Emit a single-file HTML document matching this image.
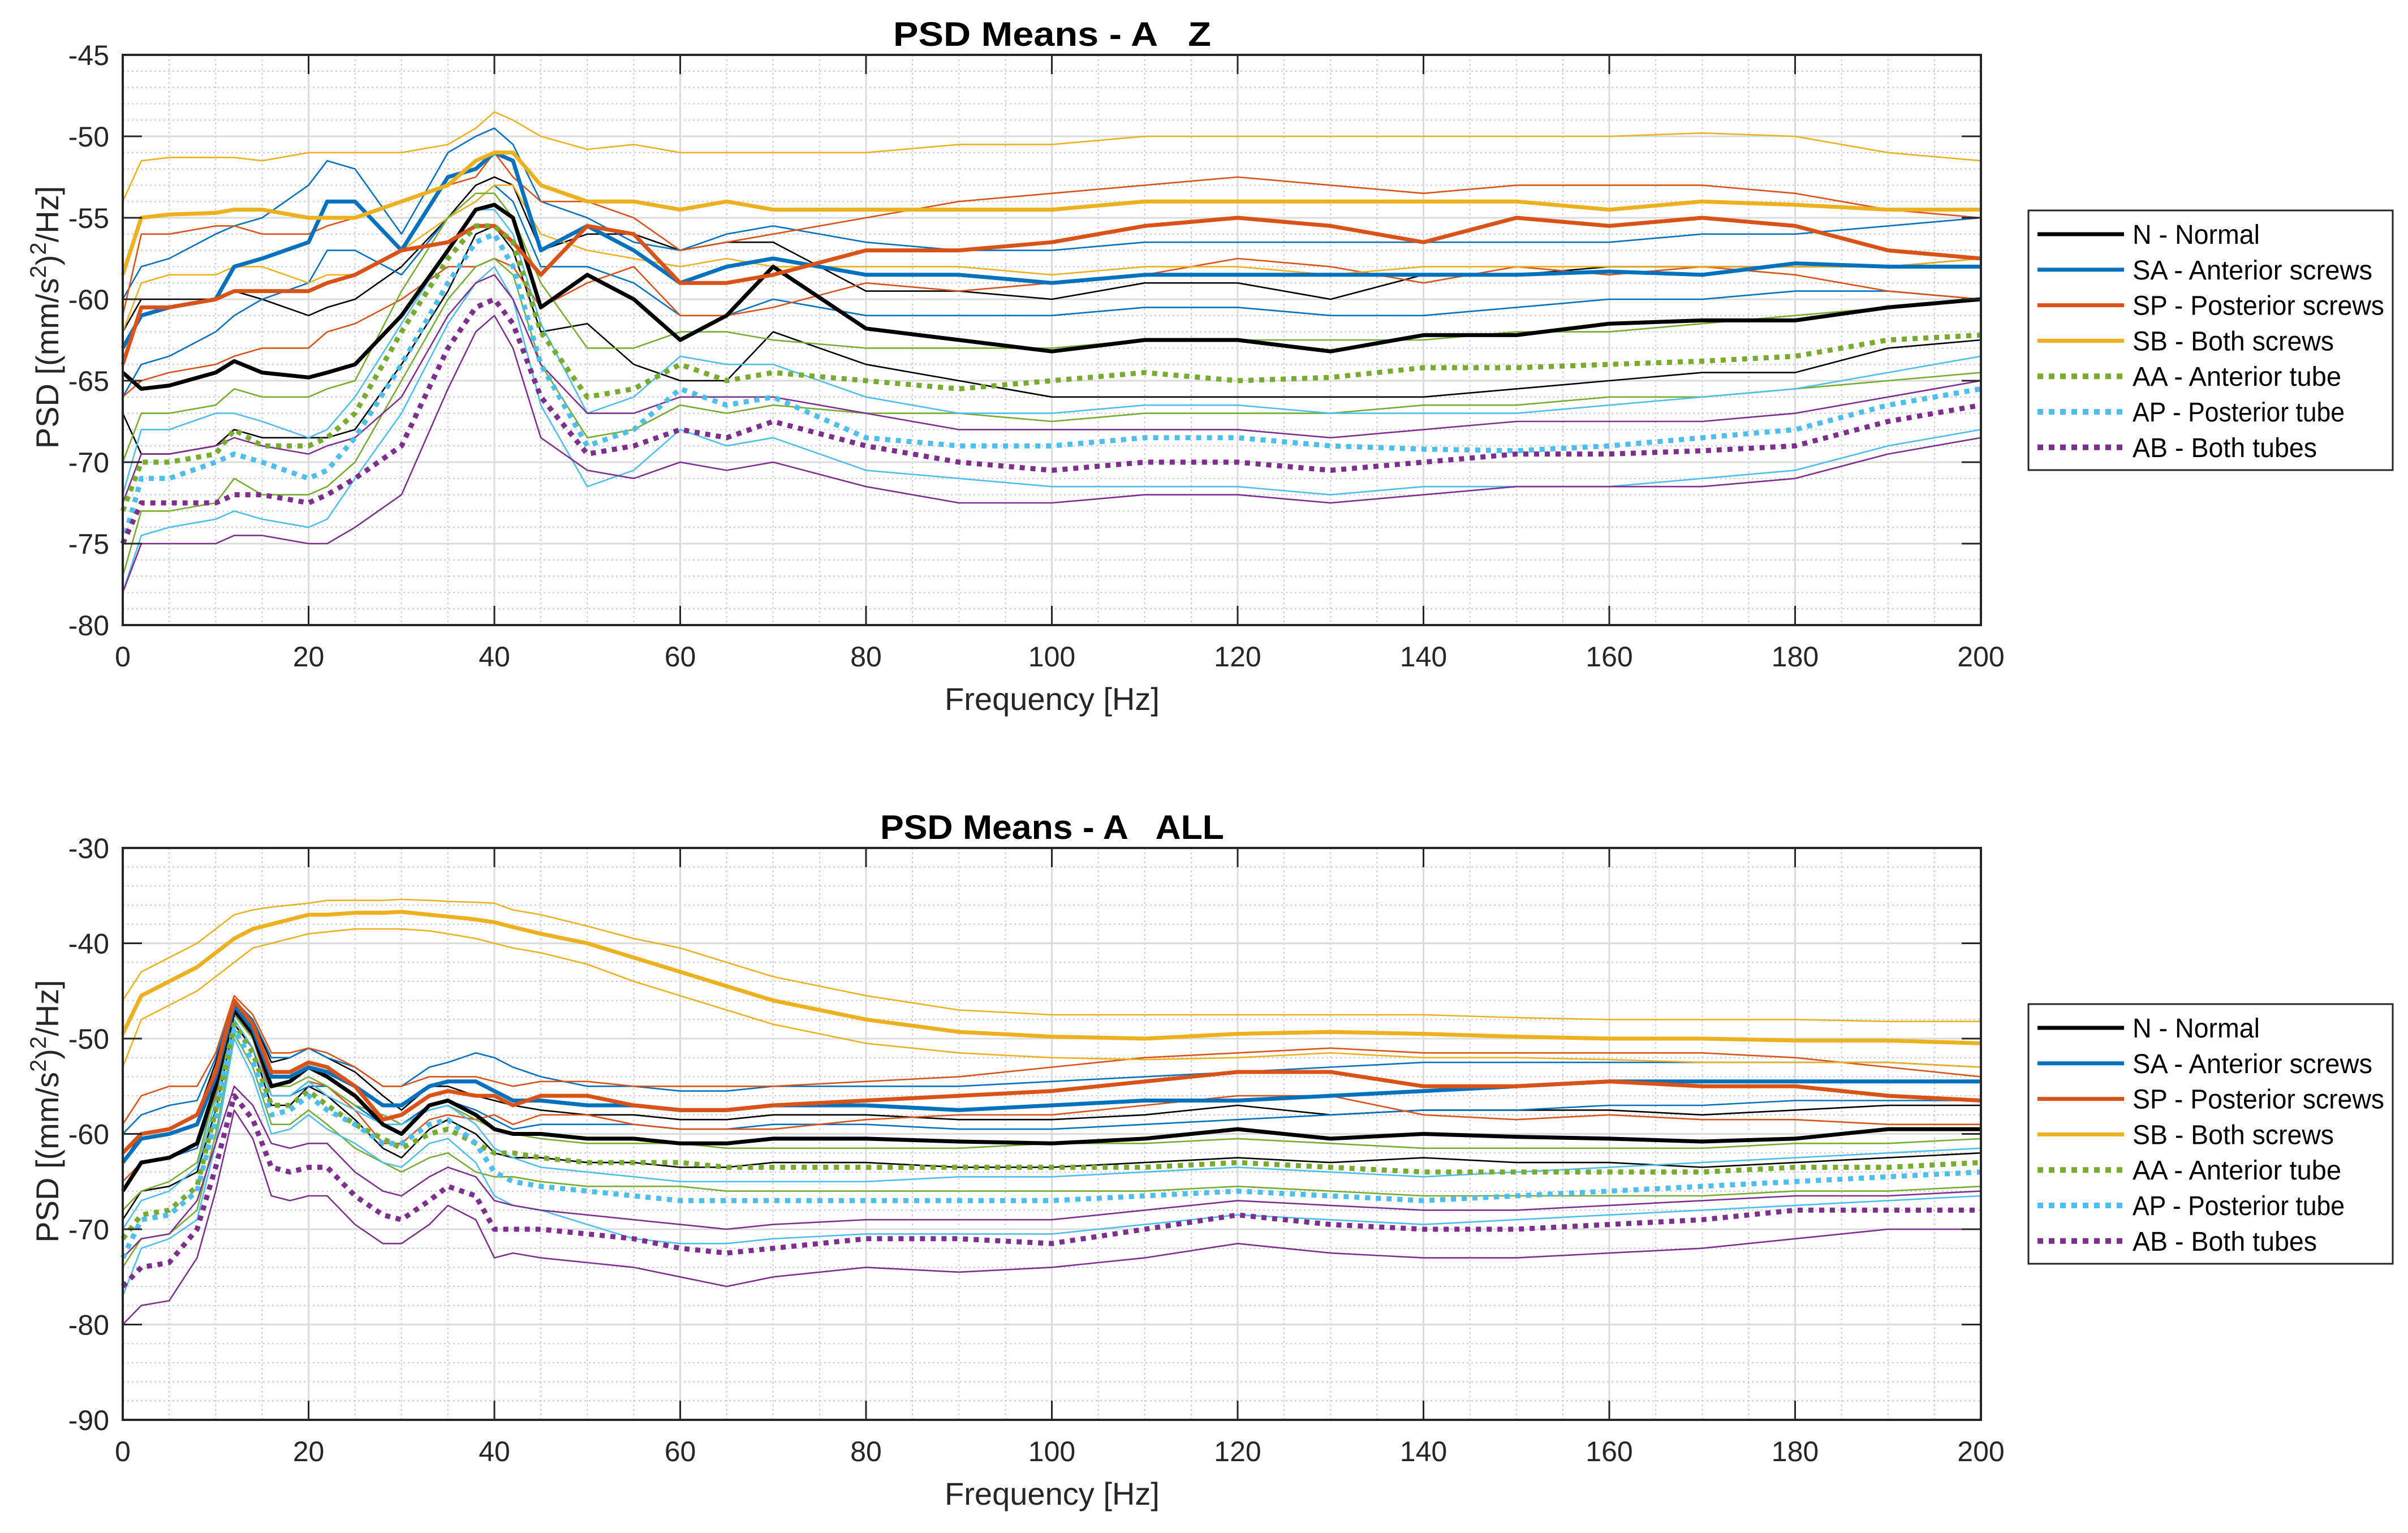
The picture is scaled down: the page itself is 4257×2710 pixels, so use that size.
<!DOCTYPE html>
<html><head><meta charset="utf-8"><style>
html,body{margin:0;padding:0;background:#fff;}
svg{display:block;font-family:"Liberation Sans",Arial,sans-serif;}
text{white-space:pre;}
</style></head><body>
<svg id="chart" width="4257" height="2710" viewBox="0 0 4257 2710" xmlns="http://www.w3.org/2000/svg">
<rect x="0" y="0" width="4257" height="2710" fill="#fff"/>
</svg>
<script>
// ---- data: top (Z) ----
const freqZ = [0,2,5,10,12,15,20,22,25,30,35,38,40,42,45,50,55,60,65,70,80,90,100,110,120,130,140,150,160,170,180,190,200];
const zN  = [-64.5,-65.5,-65.3,-64.5,-63.8,-64.5,-64.8,-64.5,-64,-61,-57,-54.5,-54.2,-55,-60.5,-58.5,-60,-62.5,-61,-58,-61.8,-62.5,-63.2,-62.5,-62.5,-63.2,-62.2,-62.2,-61.5,-61.3,-61.3,-60.5,-60];
const zNhi= [-62,-60,-60,-60,-59.5,-60,-61,-60.5,-60,-58,-55,-53,-52.5,-53,-57,-56,-56,-57,-56.5,-56.5,-59.5,-59.5,-60,-59,-59,-60,-58.5,-58.5,-58,-58,-58,-58,-57.5];
const zNlo= [-67,-69.5,-69.5,-69,-68,-68.5,-68.5,-68.5,-68,-64,-59.5,-56,-55.5,-57,-62,-61.5,-64,-65,-65,-62,-64,-65,-66,-66,-66,-66,-66,-65.5,-65,-64.5,-64.5,-63,-62.5];
const zSA = [-63,-61,-60.5,-60,-58,-57.5,-56.5,-54,-54,-57,-52.5,-52,-51,-51.5,-57,-55.5,-57,-59,-58,-57.5,-58.5,-58.5,-59,-58.5,-58.5,-58.5,-58.5,-58.5,-58.3,-58.5,-57.8,-58,-58];
const zSAhi=[-60,-58,-57.5,-56,-55.5,-55,-53,-51.5,-52,-56,-51,-50,-49.5,-50.5,-54,-55,-56.5,-57,-56,-55.5,-56.5,-57,-57,-56.5,-56.5,-56.5,-56.5,-56.5,-56.5,-56,-56,-55.5,-55];
const zSAlo=[-66,-64,-63.5,-62,-61,-60,-59,-57,-57,-58.5,-55,-54,-53,-54,-58,-58,-59,-61,-61,-60,-61,-61,-61,-60.5,-60.5,-61,-61,-60.5,-60,-60,-59.5,-59.5,-60];
const zSP = [-64,-60.5,-60.5,-60,-59.5,-59.5,-59.5,-59,-58.5,-57,-56.5,-55.5,-55.5,-56.5,-58.5,-55.5,-56,-59,-59,-58.5,-57,-57,-56.5,-55.5,-55,-55.5,-56.5,-55,-55.5,-55,-55.5,-57,-57.5];
const zSPhi=[-61,-56,-56,-55.5,-55.5,-56,-56,-55.5,-55,-54,-53,-52.5,-51,-52.5,-54,-54,-55,-57,-56.5,-56,-55,-54,-53.5,-53,-52.5,-53,-53.5,-53,-53,-53,-53.5,-54.5,-55];
const zSPlo=[-66,-65,-64.5,-64,-63.5,-63,-63,-62,-61.5,-60,-58,-58,-57.5,-58,-60.5,-59,-58,-61,-61,-60.5,-59,-59.5,-59,-58.5,-57.5,-58,-59,-58,-58.5,-58,-58.5,-59.5,-60];
const zSB = [-58.5,-55,-54.8,-54.7,-54.5,-54.5,-55,-55,-55,-54,-53,-51.5,-51,-51,-53,-54,-54,-54.5,-54,-54.5,-54.5,-54.5,-54.5,-54,-54,-54,-54,-54,-54.5,-54,-54.2,-54.5,-54.5];
const zSBhi=[-54,-51.5,-51.3,-51.3,-51.3,-51.5,-51,-51,-51,-51,-50.5,-49.5,-48.5,-49,-50,-50.8,-50.5,-51,-51,-51,-51,-50.5,-50.5,-50,-50,-50,-50,-50,-50,-49.8,-50,-51,-51.5];
const zSBlo=[-62,-59,-58.5,-58.5,-58,-58,-59,-58.5,-58.5,-57,-55,-54,-53,-53,-56,-57,-57.5,-58,-57.5,-58,-58,-58,-58.5,-58,-58,-58.5,-58,-58,-58,-58,-58,-58,-57.5];
const zAA = [-73,-70,-70,-69.5,-68,-69,-69,-68.5,-67,-62,-57.5,-55.5,-55.5,-56.5,-62,-66,-65.5,-64,-65,-64.5,-65,-65.5,-65,-64.5,-65,-64.8,-64.2,-64.2,-64,-63.8,-63.5,-62.5,-62.2];
const zAAhi=[-70,-67,-67,-66.5,-65.5,-66,-66,-65.5,-65,-59.5,-55,-53.5,-53.5,-55,-59,-63,-63,-62,-62,-62.5,-63,-63,-63,-62.5,-62.5,-62.5,-62.5,-62,-62,-61.5,-61,-60.5,-60];
const zAAlo=[-77,-73,-73,-72.5,-71,-72,-72,-71.5,-70,-65,-60,-58,-57.5,-58.5,-64,-68.5,-68,-66.5,-67,-66.5,-67,-67,-67.5,-67,-67,-67,-66.5,-66.5,-66,-66,-65.5,-65,-64.5];
const zAP = [-75,-71,-71,-70,-69.5,-70,-71,-70.5,-68.5,-64,-59,-56.5,-56,-58,-64,-69,-68,-65.5,-66.5,-66,-68.5,-69,-69,-68.5,-68.5,-69,-69.2,-69.3,-69,-68.5,-68,-66.5,-65.5];
const zAPhi=[-72,-68,-68,-67,-67,-67.5,-68.5,-68,-66,-61.5,-57,-54.5,-54.5,-56,-61.5,-67,-66,-63.5,-64,-64,-66,-67,-67,-66.5,-66.5,-67,-67,-67,-66.5,-66,-65.5,-64.5,-63.5];
const zAPlo=[-78,-74.5,-74,-73.5,-73,-73.5,-74,-73.5,-71,-67,-61.5,-59,-58,-60,-66.5,-71.5,-70.5,-68,-69,-68.5,-70.5,-71,-71.5,-71.5,-71.5,-72,-71.5,-71.5,-71.5,-71,-70.5,-69,-68];
const zAB = [-75,-72.5,-72.5,-72.5,-72,-72,-72.5,-72,-71,-69,-63,-60.5,-60,-61.5,-66,-69.5,-69,-68,-68.5,-67.5,-69,-70,-70.5,-70,-70,-70.5,-70,-69.5,-69.5,-69.3,-69,-67.5,-66.5];
const zABhi=[-72.5,-69.5,-69.5,-69,-68.5,-69,-69.5,-69,-68.5,-66,-61,-59,-58.5,-60,-64,-67,-67,-66,-66,-66,-67,-68,-68,-68,-68,-68.5,-68,-67.5,-67.5,-67.5,-67,-66,-65];
const zABlo=[-78,-75,-75,-75,-74.5,-74.5,-75,-75,-74,-72,-65.5,-62,-61,-63,-68.5,-70.5,-71,-70,-70.5,-70,-71.5,-72.5,-72.5,-72,-72,-72.5,-72,-71.5,-71.5,-71.5,-71,-69.5,-68.5];
// ---- data: bottom (ALL) ----
const freqAll = [0,2,5,8,10,12,14,16,18,20,22,25,28,30,33,35,38,40,42,45,50,55,60,65,70,80,90,100,110,120,130,140,150,160,170,180,190,200];
const aN  = [-66,-63,-62.5,-61,-55,-47,-49.5,-55,-54.5,-53,-54,-56,-59,-60,-57,-56.5,-58,-59.5,-60,-60,-60.5,-60.5,-61,-61,-60.5,-60.5,-60.8,-61,-60.5,-59.5,-60.5,-60,-60.3,-60.5,-60.8,-60.5,-59.5,-59.5];
const aNhi= [-63,-60,-59.5,-58,-52.5,-46,-48,-52.5,-52,-51,-52,-53.5,-56,-57.5,-55,-55,-56,-56.5,-57,-57.5,-58,-58,-58.5,-58.5,-58,-58,-58.5,-58.5,-58,-57,-58,-57.5,-57.5,-57.5,-58,-57.5,-57,-57];
const aNlo= [-69,-66,-65.5,-64,-57.5,-48.5,-51,-57,-57,-55,-56,-58.5,-61.5,-62.5,-59.5,-58.5,-60,-62,-62.5,-62.5,-63,-63,-63.5,-63.5,-63,-63,-63.5,-63.5,-63,-62.5,-63,-62.5,-63,-63,-63.5,-63,-62.5,-62];
const aSA = [-63,-60.5,-60,-59,-54,-46.5,-49,-54,-54,-53,-53.5,-55,-57,-57,-55,-54.5,-54.5,-55.5,-56.5,-56.5,-57,-57,-57.5,-57.5,-57,-57,-57.5,-57,-56.5,-56.5,-56,-55.5,-55,-54.5,-54.5,-54.5,-54.5,-54.5];
const aSAhi=[-60,-58,-57,-56.5,-52,-46,-48,-52,-52,-51,-52,-53,-55,-55,-53,-52.5,-51.5,-52,-53,-54,-55,-55,-55.5,-55.5,-55,-55,-55,-54.5,-54,-53.5,-53,-52.5,-52.5,-52.5,-52.5,-52.5,-52.5,-53];
const aSAlo=[-66,-63,-62.5,-61.5,-56,-47.5,-50,-56,-56,-55,-55,-57,-59,-59,-57,-56.5,-57.5,-58.5,-59.5,-59,-59,-59,-59.5,-59.5,-59,-59,-59.5,-59.5,-59,-58.5,-58,-57.5,-57.5,-57,-57,-56.5,-56.5,-56.5];
const aSP = [-62,-60,-59.5,-58,-53.5,-46,-48.5,-53.5,-53.5,-52.5,-53,-55,-58.5,-58,-56,-55.5,-56,-56,-57,-56,-56,-57,-57.5,-57.5,-57,-56.5,-56,-55.5,-54.5,-53.5,-53.5,-55,-55,-54.5,-55,-55,-56,-56.5];
const aSPhi=[-59,-56,-55,-55,-51.5,-45.5,-47.5,-51.5,-51.5,-51,-51.5,-53,-55,-55,-54,-54,-54,-54.5,-55,-54.5,-54.5,-55,-55,-55,-55,-54.5,-54,-53,-52,-51.5,-51,-51.5,-51.5,-51.5,-51.5,-52,-53,-54];
const aSPlo=[-65,-63,-62.5,-61,-56,-47,-50,-56,-56,-54.5,-55,-57.5,-61,-61,-58.5,-58,-58.5,-58,-59,-58,-58,-59,-59.5,-59.5,-59.5,-58.5,-58,-58,-57,-56,-56,-58,-58.5,-58,-58.5,-58.5,-59,-59];
const aSB = [-49.5,-45.5,-44,-42.5,-41,-39.5,-38.5,-38,-37.5,-37,-37,-36.8,-36.8,-36.7,-37,-37.2,-37.5,-37.8,-38.3,-39,-40,-41.5,-43,-44.5,-46,-48,-49.3,-49.8,-50,-49.5,-49.3,-49.5,-49.8,-50,-50,-50.2,-50.2,-50.5];
const aSBhi=[-46,-43,-41.5,-40,-38.5,-37,-36.5,-36.2,-36,-35.8,-35.5,-35.5,-35.5,-35.4,-35.5,-35.6,-35.7,-35.8,-36.5,-37,-38.2,-39.5,-40.5,-42,-43.5,-45.5,-47,-47.5,-47.5,-47.5,-47.5,-47.5,-47.8,-48,-48,-48,-48.2,-48.2];
const aSBlo=[-53,-48,-46.5,-45,-43.5,-42,-40.5,-40,-39.5,-39,-38.8,-38.5,-38.5,-38.5,-38.7,-39,-39.5,-40,-40.5,-41,-42.2,-44,-45.5,-47,-48.5,-50.5,-51.5,-52,-52.2,-52,-51.5,-52,-52,-52.2,-52.5,-52.5,-52.5,-53];
const aAA = [-71,-68.5,-68,-65.5,-57.5,-48.5,-51.5,-57,-57,-55.5,-57,-59,-60.5,-61.5,-60,-59.5,-61,-62,-62,-62.5,-63,-63,-63,-63.5,-63.5,-63.5,-63.5,-63.5,-63.5,-63,-63.5,-64,-64,-64,-64,-63.5,-63.5,-63];
const aAAhi=[-68,-66,-65,-63,-55.5,-47.5,-50,-55,-55,-54,-55,-57,-58,-59,-57.5,-57,-58.5,-59.5,-60,-60.5,-61,-61,-61,-61.5,-61.5,-61.5,-61.5,-61,-61,-60.5,-61,-61.5,-61.5,-61.5,-61.5,-61,-61,-60.5];
const aAAlo=[-74,-71,-70.5,-68,-60,-49.5,-53,-59,-59,-57.5,-59,-61.5,-63,-64,-62.5,-62,-64,-64.5,-64.5,-65,-65.5,-65.5,-65.5,-66,-66,-66,-66,-66,-66,-65.5,-66,-66.5,-66.5,-66.5,-66.5,-66,-66,-65.5];
const aAP = [-73,-69,-68.5,-66,-58.5,-49,-52.5,-58,-57.5,-56,-57.5,-59,-61,-61,-59,-58.5,-61,-64,-65,-65.5,-66,-66.5,-67,-67,-67,-67,-67,-67,-66.5,-66,-66.5,-67,-66.5,-66,-65.5,-65,-64.5,-64];
const aAPhi=[-70,-67,-66,-63.5,-56.5,-48,-51,-56,-56,-54.5,-56,-57.5,-59,-59,-57.5,-57,-59,-61.5,-62.5,-63.5,-64,-64.5,-65,-65,-65,-65,-64.5,-64.5,-64,-63.5,-64,-64.5,-64,-63.5,-63,-62.5,-62,-61.5];
const aAPlo=[-77,-72,-71,-69,-61,-50,-54,-60,-59.5,-58,-59.5,-61,-63,-63.5,-61,-60.5,-63,-66.5,-67.5,-68,-69.5,-71,-71.5,-71.5,-71,-70.5,-70.5,-70.5,-69.5,-68.5,-69,-69.5,-69,-68.5,-68,-67.5,-67,-66.5];
const aAB = [-76,-74,-73.5,-70,-63.5,-56,-58.5,-63.5,-64,-63.5,-63.5,-66.5,-68.5,-69,-67,-65.5,-66.5,-70,-70,-70,-70.5,-71,-72,-72.5,-72,-71,-71,-71.5,-70,-68.5,-69.5,-70,-70,-69.5,-69,-68,-68,-68];
const aABhi=[-73,-71,-70.5,-67,-61,-55,-57,-61,-61.5,-61,-61,-64,-66,-66.5,-64.5,-63.5,-64.5,-67,-67.5,-68,-68.5,-69,-69.5,-70,-69.5,-69,-69,-69,-68,-67,-67.5,-68,-68,-67.5,-67,-66.5,-66.5,-66];
const aABlo=[-80,-78,-77.5,-73,-66,-57.5,-60.5,-66.5,-67,-66.5,-66.5,-69.5,-71.5,-71.5,-69.5,-67.5,-69,-73,-72.5,-73,-73.5,-74,-75,-76,-75,-74,-74.5,-74,-73,-71.5,-72.5,-73,-73,-72.5,-72,-71,-70,-70];
const xTicks = [0,20,40,60,80,100,120,140,160,180,200];
const yTicksZ = [-45,-50,-55,-60,-65,-70,-75,-80];
const yTicksAll = [-30,-40,-50,-60,-70,-80,-90];
const seriesNames = ["N - Normal","SA - Anterior screws","SP - Posterior screws","SB - Both screws","AA - Anterior tube","AP - Posterior tube","AB - Both tubes"];
const seriesKeys = ["n","sa","sp","sb","aa","ap","ab"];
const seriesColors = ["#000000","#0072BD","#D95319","#EDB120","#77AC30","#4DBEEE","#7E2F8E"];
const legendWidths = [225,424,445,356,369,375,326];

const NS="http://www.w3.org/2000/svg";
const svg=document.getElementById('chart');
function mk(tag,attrs,parent){const e=document.createElementNS(NS,tag);for(const k in attrs)e.setAttribute(k,attrs[k]);(parent||svg).appendChild(e);return e;}

function drawPanel(cfg){
  const L=217,R=3502,T=cfg.top,B=cfg.bottom;
  const g=mk('g',{});
  
  
  const xs=f=>L+(f-0)/(200-0)*(R-L);
  const ys=v=>T+(cfg.ymax-v)/(cfg.ymax-cfg.ymin)*(B-T);
  // minor grid
  for(let f=5;f<200;f+=5){ if(f%20===0)continue; const l=mk('line',{x1:xs(f),x2:xs(f),y1:T,y2:B,stroke:'#c8c8c8','stroke-width':2,'stroke-dasharray':'3 5'},g);  }
  for(let v=cfg.ymin+cfg.ymi;v<cfg.ymax;v+=cfg.ymi){ if(Math.abs(v%cfg.yma)<1e-6)continue; const l=mk('line',{x1:L,x2:R,y1:ys(v),y2:ys(v),stroke:'#c8c8c8','stroke-width':2,'stroke-dasharray':'3 5'},g);  }
  // major grid
  xTicks.forEach(f=>{const l=mk('line',{x1:xs(f),x2:xs(f),y1:T,y2:B,stroke:'#dcdcdc','stroke-width':3},g);  });
  cfg.yticks.forEach(v=>{const l=mk('line',{x1:L,x2:R,y1:ys(v),y2:ys(v),stroke:'#dcdcdc','stroke-width':3},g);  });
  // series: thin bounds then means
  const F=cfg.freq;
  const pts=arr=>arr.map((v,i)=>xs(F[i]).toFixed(1)+','+ys(v).toFixed(1)).join(' ');
  cfg.series.forEach((s,k)=>{
    [s.hi,s.lo].forEach((arr,j)=>{const p=mk('polyline',{points:pts(arr),fill:'none',stroke:seriesColors[k],'stroke-width':2.6,'stroke-linejoin':'round'},g);
      
      });
  });
  cfg.series.forEach((s,k)=>{
    const a={points:pts(s.mean),fill:'none',stroke:seriesColors[k],'stroke-width':k>=4?9:7,'stroke-linejoin':'round'};
    if(k>=4){a['stroke-dasharray']='9 10';}
    const p=mk('polyline',a,g);
    
    
  });
  // axes box
  const bx=mk('rect',{x:L,y:T,width:R-L,height:B-T,fill:'none',stroke:'#262626','stroke-width':4},g);
   
  xTicks.forEach(f=>{
    mk('line',{x1:xs(f),x2:xs(f),y1:B,y2:B-34,stroke:'#262626','stroke-width':3},g);
    mk('line',{x1:xs(f),x2:xs(f),y1:T,y2:T+34,stroke:'#262626','stroke-width':3},g);
    const t=mk('text',{x:xs(f),y:B+73,'font-size':50,'text-anchor':'middle',fill:'#262626'},g);
    t.textContent=String(f);
     
  });
  cfg.yticks.forEach(v=>{
    mk('line',{x1:L,x2:L+34,y1:ys(v),y2:ys(v),stroke:'#262626','stroke-width':3},g);
    mk('line',{x1:R,x2:R-34,y1:ys(v),y2:ys(v),stroke:'#262626','stroke-width':3},g);
    const t=mk('text',{x:193,y:ys(v)+18,'font-size':50,'text-anchor':'end',fill:'#262626'},g);
    t.textContent=String(v);
     
  });
  const tt=mk('text',{x:1860,y:T-16,'font-size':60,'font-weight':'bold','text-anchor':'middle',fill:'#000',textLength:cfg.titleLen,lengthAdjust:'spacingAndGlyphs'},g);
  tt.textContent=cfg.title;
   
  const xt=mk('text',{x:1860,y:B+150,'font-size':56,'text-anchor':'middle',fill:'#262626',textLength:380,lengthAdjust:'spacingAndGlyphs'},g);
  xt.textContent='Frequency [Hz]';
   
  const cy=(T+B)/2;
  const yt=mk('text',{x:0,y:0,'font-size':56,'text-anchor':'middle',fill:'#262626',transform:`translate(103,${cy-40}) rotate(-90)`},g);
   
  const parts=[['PSD [(mm/s',0],['2',1],[')',0],['2',1],['/Hz]',0]];
  parts.forEach(([s,sup])=>{const ts=mk('tspan',sup?{'font-size':40,dy:-22}:{dy:0},yt);ts.textContent=s; if(sup){ts.setAttribute('data-sup','1');}});
  // fix baseline after superscripts
  const tsp=yt.querySelectorAll('tspan');
  tsp[2].setAttribute('dy',22); tsp[4].setAttribute('dy',22);
  // legend
  const LT=cfg.legTop,LB=cfg.legTop+459;
  const lg=mk('g',{},g);
   
  mk('rect',{x:3586,y:LT,width:644,height:LB-LT,fill:'#fff',stroke:'#262626','stroke-width':3},lg);
  seriesNames.forEach((nm,k)=>{
    const y=LT+42+k*62.8;
    const e=mk('g',{},lg);
    
    
    const la={x1:3602,x2:3755,y1:y,y2:y,stroke:seriesColors[k],'stroke-width':k>=4?10:7};
    if(k>=4)la['stroke-dasharray']='10 10';
    mk('line',la,e);
    const t=mk('text',{x:3770,y:y+17,'font-size':48,fill:'#000',textLength:legendWidths[k],lengthAdjust:'spacingAndGlyphs'},e);
    t.textContent=nm;
  });
}
drawPanel({name:'psd-z-panel',top:97,bottom:1105,ymin:-80,ymax:-45,ymi:1,yma:5,yticks:yTicksZ,freq:freqZ,title:'PSD Means - A   Z',titleLen:562,legTop:372,
  series:[{mean:zN,hi:zNhi,lo:zNlo},{mean:zSA,hi:zSAhi,lo:zSAlo},{mean:zSP,hi:zSPhi,lo:zSPlo},{mean:zSB,hi:zSBhi,lo:zSBlo},{mean:zAA,hi:zAAhi,lo:zAAlo},{mean:zAP,hi:zAPhi,lo:zAPlo},{mean:zAB,hi:zABhi,lo:zABlo}]});
drawPanel({name:'psd-all-panel',top:1499,bottom:2510,ymin:-90,ymax:-30,ymi:2,yma:10,yticks:yTicksAll,freq:freqAll,title:'PSD Means - A   ALL',titleLen:608,legTop:1775,
  series:[{mean:aN,hi:aNhi,lo:aNlo},{mean:aSA,hi:aSAhi,lo:aSAlo},{mean:aSP,hi:aSPhi,lo:aSPlo},{mean:aSB,hi:aSBhi,lo:aSBlo},{mean:aAA,hi:aAAhi,lo:aAAlo},{mean:aAP,hi:aAPhi,lo:aAPlo},{mean:aAB,hi:aABhi,lo:aABlo}]});
</script>
</body></html>
